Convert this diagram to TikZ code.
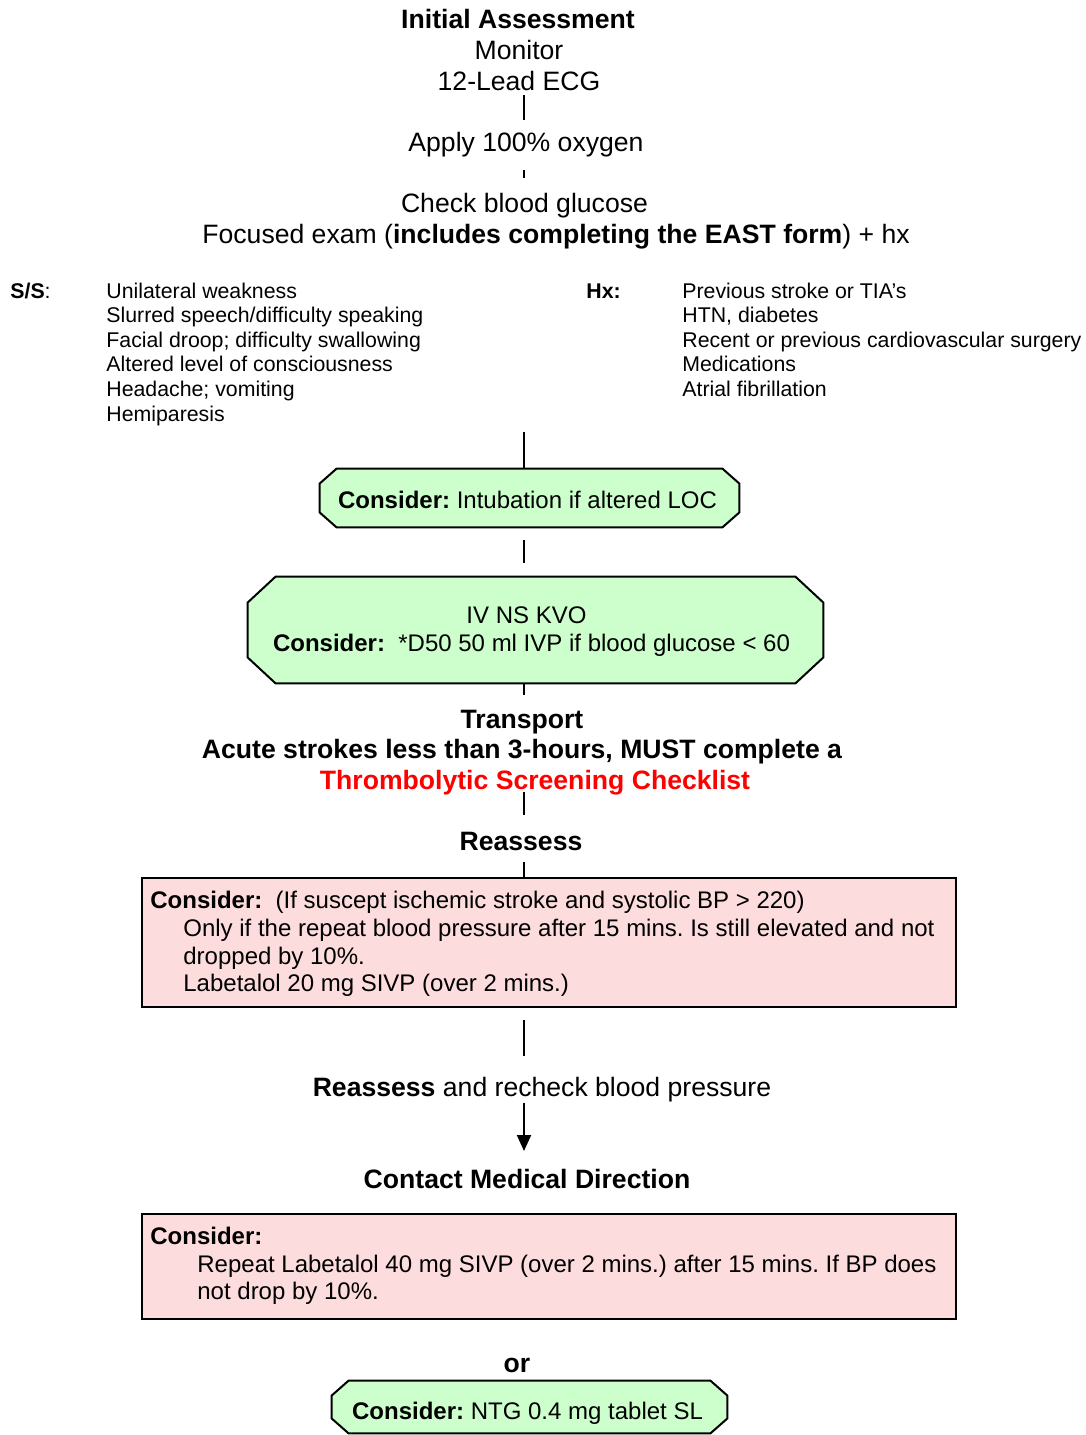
\documentclass[tikz,border=0pt]{standalone}
\usepackage{fontspec}
\setmainfont{Liberation Sans}
\usetikzlibrary{arrows.meta,backgrounds}
\definecolor{octfill}{RGB}{204,255,204}
\definecolor{boxfill}{RGB}{252,220,220}
\definecolor{checkred}{RGB}{255,0,0}
% filled octagon drawn round a named node: #1 node, #2 horizontal cut, #3 vertical cut
\newcommand\octagonshape[3]{%
  \filldraw[octline] ([xshift=#2]#1.north west) -- ([xshift=-#2]#1.north east)
    -- ([yshift=-#3]#1.north east) -- ([yshift=#3]#1.south east)
    -- ([xshift=-#2]#1.south east) -- ([xshift=#2]#1.south west)
    -- ([yshift=#3]#1.south west) -- ([yshift=-#3]#1.north west) -- cycle;}
% lower a line of text without changing the size it reports
\newcommand\lowered[2]{\raisebox{-#1}[\height][\depth]{#2}}
\frenchspacing
\begin{document}
\begin{tikzpicture}[x=0.5pt,y=-0.5pt,
  txt/.style={inner sep=0pt,anchor=base,font=\fontsize{13.3}{14}\selectfont},
  hd/.style={inner sep=0pt,anchor=base,font=\fontsize{13.3}{14}\selectfont\bfseries},
  lst/.style={inner sep=0pt,anchor=base west,font=\fontsize{10.65}{12}\selectfont},
  btxt/.style={inner sep=0pt,anchor=base west,font=\fontsize{12}{14}\selectfont},
  octnode/.style={rectangle,inner sep=0pt,align=center,font=\fontsize{12}{14}\selectfont},
  octline/.style={draw=black,line width=1pt,fill=octfill},
  pinkbox/.style={rectangle,draw=black,line width=1pt,fill=boxfill,inner sep=0pt,anchor=north west},
  link/.style={draw=black,line width=1pt},
]
\useasboundingbox (0,0) rectangle (1086,1435);
\coordinate (spine) at (524,0);

% ---- initial assessment
\node[hd]  (init) at (518,28)    {Initial Assessment};
\node[txt] (mon)  at (519,59)    {Monitor};
\node[txt] (ecg)  at (519,90)    {12-Lead ECG};
\node[txt] (oxy)  at (526,151)   {Apply 100\% oxygen};
\node[txt] (glu)  at (524.5,212) {Check blood glucose};
\node[txt] (exam) at (556,243)   {Focused exam (\textbf{includes completing the EAST form}) + hx};

% ---- signs / history lists
\node[lst] (ss) at (10,298) {\textbf{S/S}:};
\foreach \t [count=\i from 0] in {Unilateral weakness, Slurred speech/difficulty speaking,
    Facial droop; difficulty swallowing, Altered level of consciousness,
    Headache; vomiting, Hemiparesis}
  \node[lst] (ss\i) at (106,298+24.6*\i) {\t};
\node[lst] (hx) at (586,298) {\textbf{Hx:}};
\foreach \t [count=\i from 0] in {Previous stroke or TIA’s, {HTN, diabetes},
    Recent or previous cardiovascular surgery, Medications, Atrial fibrillation}
  \node[lst] (hx\i) at (682,298+24.6*\i) {\t};

% ---- green steps
\node[octnode,minimum width=209.5pt,minimum height=29pt] (o1) at (529.5,498)
  {\lowered{1pt}{\textbf{Consider:} Intubation if altered LOC}\hspace*{2pt}};
\node[octnode,minimum width=287.5pt,minimum height=53pt] (o2) at (535.5,630)
  {\lowered{1pt}{IV NS KVO}\hspace*{9pt}\\\lowered{1pt}{\textbf{Consider:}\ \ *D50 50 ml IVP if blood glucose < 60}\hspace*{4pt}};

% ---- transport
\node[hd] (trans) at (522,728) {Transport};
\node[hd] (acute) at (522,758) {Acute strokes less than 3-hours, MUST complete a};
\node[hd,text=checkred] (tsc) at (535,789) {Thrombolytic Screening Checklist};
\node[hd] (re1) at (521,850) {Reassess};

% ---- first labetalol box
\node[pinkbox,minimum width=407pt,minimum height=64.5pt] (b1) at (141,877) {};
\node[btxt] (b1a) at (150,908) {\textbf{Consider:}\ \ (If suscept ischemic stroke and systolic BP > 220)};
\node[btxt] (b1b) at (183,936) {Only if the repeat blood pressure after 15 mins. Is still elevated and not};
\node[btxt] (b1c) at (183,964) {dropped by 10\%.};
\node[btxt] (b1d) at (183,991) {Labetalol 20 mg SIVP (over 2 mins.)};

\node[txt] (re2) at (542,1096) {\textbf{Reassess} and recheck blood pressure};
\node[hd]  (cmd) at (527,1188) {Contact Medical Direction};

% ---- second labetalol box
\node[pinkbox,minimum width=407pt,minimum height=52.5pt] (b2) at (141,1213) {};
\node[btxt] (b2a) at (150,1244) {\textbf{Consider:}};
\node[btxt] (b2b) at (197,1272) {Repeat Labetalol 40 mg SIVP (over 2 mins.) after 15 mins. If BP does};
\node[btxt] (b2c) at (197,1299) {not drop by 10\%.};

\node[hd] (or) at (517,1372) {or};
\node[octnode,minimum width=197.5pt,minimum height=26pt] (o3) at (529.5,1407)
  {\lowered{3pt}{\textbf{Consider:} NTG 0.4 mg tablet SL}\hspace*{2pt}};

\begin{scope}[on background layer]
  \octagonshape{o1}{8.5pt}{7.5pt}
  \octagonshape{o2}{14pt}{13pt}
  \octagonshape{o3}{8.5pt}{7.5pt}
\end{scope}

% ---- connectors along the spine
\coordinate (c1a) at (524,95);   \coordinate (c1b) at (524,120);
\coordinate (c2a) at (524,170);  \coordinate (c2b) at (524,178);
\coordinate (c3a) at (524,432);
\coordinate (c4a) at (524,540);  \coordinate (c4b) at (524,563);
\coordinate (c5b) at (524,695);
\coordinate (c6a) at (524,792);  \coordinate (c6b) at (524,815);
\coordinate (c7a) at (524,862);
\coordinate (c8a) at (524,1020); \coordinate (c8b) at (524,1056);
\coordinate (c9a) at (524,1103); \coordinate (c9b) at (524,1151);

\draw[link] (c1a) -- (c1b);
\draw[link] (c2a) -- (c2b);
\draw[link] (c3a) -- (o1.north -| spine);
\draw[link] (c4a) -- (c4b);
\draw[link] (o2.south -| spine) -- (c5b);
\draw[link] (c6a) -- (c6b);
\draw[link] (c7a) -- (b1.north -| spine);
\draw[link] (c8a) -- (c8b);
\draw[link,-{Triangle[width=7pt,length=8pt]}] (c9a) -- (c9b);
\end{tikzpicture}
\end{document}
